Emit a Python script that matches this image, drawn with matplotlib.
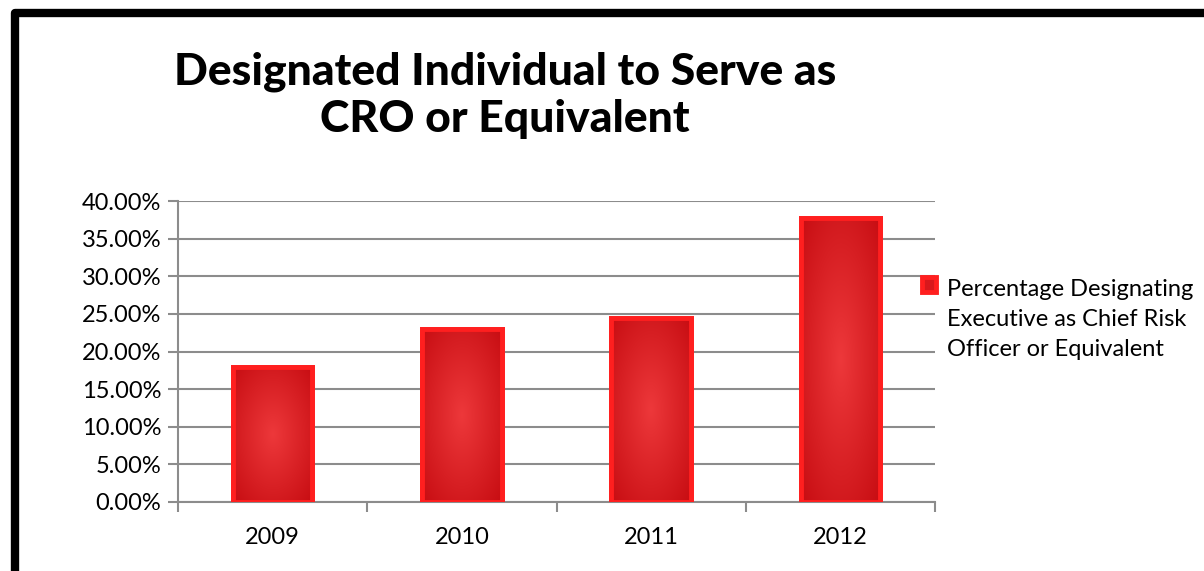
import numpy as np
import matplotlib
matplotlib.use("Agg")
import matplotlib.pyplot as plt
from matplotlib.lines import Line2D
from matplotlib.patches import Rectangle
from matplotlib.legend_handler import HandlerPatch
from matplotlib.ticker import FuncFormatter, MultipleLocator

# data
years = ["2009", "2010", "2011", "2012"]
values = [18.0, 23.0, 24.5, 37.8]
legend_label = "Percentage Designating\nExecutive as Chief Risk\nOfficer or Equivalent"
title = "Designated Individual to Serve as\nCRO or Equivalent"

plt.rcParams['font.family'] = ['Lato', 'DejaVu Sans']

fig = plt.figure(figsize=(12.04, 5.71), dpi=100)
ax = fig.add_axes([178 / 1204, 69 / 571, 757 / 1204, 301 / 571])

x = np.arange(len(years))
bars = ax.bar(x, values, width=0.42, color="#d8181c", edgecolor="#ff1f1f",
              linewidth=3.5, zorder=3)

# soft radial gradient inside each bar
gy, gx = np.mgrid[-1:1:200j, -1:1:60j]
r = np.sqrt(gx ** 2 + gy ** 2) / np.sqrt(2)
light = np.array([0.93, 0.22, 0.23])
dark = np.array([0.78, 0.05, 0.07])
img = light[None, None, :] * (1 - r[..., None]) + dark[None, None, :] * r[..., None]
for b in bars:
    x0, w, h = b.get_x(), b.get_width(), b.get_height()
    im = ax.imshow(img, extent=[x0, x0 + w, 0, h], aspect="auto", zorder=3.5,
                   interpolation="bilinear")
    im.set_clip_path(b)
    ax.bar(x0 + w / 2, h, width=w, fill=False, edgecolor="#ff1f1f",
           linewidth=3.5, zorder=4)

ax.set_xlim(-0.5, len(years) - 0.5)
ax.set_ylim(0, 40)
ax.yaxis.set_major_locator(MultipleLocator(5))
ax.yaxis.set_major_formatter(FuncFormatter(lambda v, p: f"{v:.2f}%"))
ax.grid(axis="y", color="#8c8c8c", linewidth=1.5, zorder=0)
ax.set_axisbelow(True)

ax.set_xticks(x)
ax.set_xticklabels(years)
ax.set_xticks(np.arange(-0.5, len(years)), minor=True)
ax.tick_params(axis="x", which="major", length=0, pad=18, labelsize=17)
ax.tick_params(axis="x", which="minor", length=7, width=1.5, color="#8c8c8c")
ax.tick_params(axis="y", length=7, width=1.5, color="#8c8c8c", labelsize=17, pad=5)

for s in ["top", "right"]:
    ax.spines[s].set_visible(False)
for s in ["left", "bottom"]:
    ax.spines[s].set_color("#8c8c8c")
    ax.spines[s].set_linewidth(1.5)


# legend marker sits next to the first line of the label
def first_line_patch(legend, orig_handle, xdescent, ydescent, width, height, fontsize):
    return Rectangle((-xdescent, -ydescent + 25.5), width, height, linewidth=2)


leg = ax.legend([bars[0]], [legend_label], loc="upper left",
                bbox_to_anchor=(0.983, 0.742), frameon=False,
                fontsize=17, handlelength=0.6, handleheight=0.6, handletextpad=0.45,
                borderaxespad=0, borderpad=0,
                handler_map={Rectangle: HandlerPatch(patch_func=first_line_patch)})
leg.get_texts()[0].set_linespacing(1.55)

fig.text(505 / 1204, 1 - 95 / 571, title, ha="center", va="center",
         fontsize=32, fontweight="black", linespacing=1.22)

# black frame (top and left edges)
fig.add_artist(Line2D([15 / 1204, 15 / 1204, 1.02], [-0.05, 1 - 13 / 571, 1 - 13 / 571],
                      transform=fig.transFigure, color="black", linewidth=6,
                      solid_joinstyle="round"))

fig.savefig("out.png", dpi=100, facecolor="white")
